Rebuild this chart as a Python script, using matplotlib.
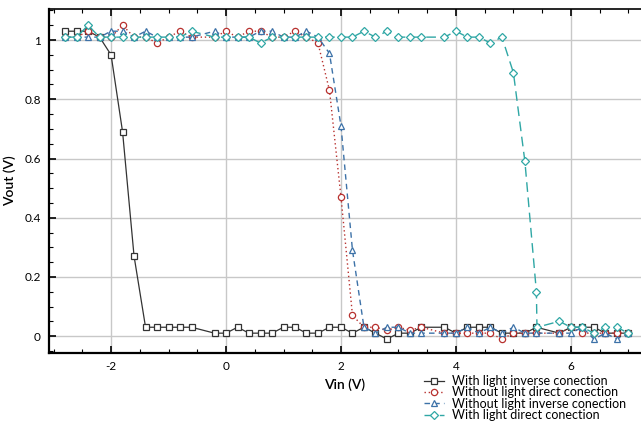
import matplotlib
matplotlib.use("Agg")
import matplotlib.pyplot as plt
from matplotlib.ticker import MultipleLocator, AutoMinorLocator, FormatStrFormatter

plt.rcParams['font.family'] = ['Lato', 'DejaVu Sans']
plt.rcParams['axes.unicode_minus'] = False

# shared Vin steps (no readings at -0.4, 3.6 and 5.6)
vin = [-2.8, -2.6, -2.4, -2.2, -2.0, -1.8, -1.6, -1.4, -1.2, -1.0, -0.8, -0.6,
       -0.2, 0.0, 0.2, 0.4, 0.6, 0.8, 1.0, 1.2, 1.4, 1.6, 1.8, 2.0, 2.2, 2.4,
       2.6, 2.8, 3.0, 3.2, 3.4, 3.8, 4.0, 4.2, 4.4, 4.6, 4.8, 5.0, 5.2, 5.4,
       5.8, 6.0, 6.2, 6.4, 6.6, 6.8, 7.0]

light_inverse = [1.03, 1.03, 1.03, 1.01, 0.95, 0.69, 0.27, 0.03, 0.03, 0.03, 0.03, 0.03,
                 0.01, 0.01, 0.03, 0.01, 0.01, 0.01, 0.03, 0.03, 0.01, 0.01, 0.03, 0.03, 0.01, 0.03,
                 0.01, -0.01, 0.01, 0.01, 0.03, 0.03, 0.01, 0.03, 0.03, 0.03, 0.01, 0.01, 0.01, 0.03,
                 0.01, 0.03, 0.03, 0.03, 0.01, 0.01, 0.01]

nolight_direct = [1.01, 1.01, 1.03, 1.01, 1.01, 1.05, 1.01, 1.01, 0.99, 1.01, 1.03, 1.01,
                  1.01, 1.03, 1.01, 1.03, 1.03, 1.01, 1.01, 1.03, 1.01, 0.99, 0.83, 0.47, 0.07, 0.03,
                  0.03, 0.02, 0.03, 0.02, 0.03, 0.01, 0.01, 0.01, 0.01, 0.01, -0.01, 0.01, 0.01, 0.01,
                  0.01, 0.03, 0.01, 0.01, 0.01, 0.01, 0.01]

nolight_inverse = [1.01, 1.01, 1.01, 1.01, 1.03, 1.03, 1.01, 1.03, 1.01, 1.01, 1.01, 1.01,
                   1.03, 1.01, 1.01, 1.01, 1.03, 1.03, 1.01, 1.01, 1.03, 1.01, 0.955, 0.71, 0.29, 0.03,
                   0.01, 0.03, 0.03, 0.01, 0.01, 0.01, 0.01, 0.03, 0.01, 0.03, 0.01, 0.03, 0.01, 0.01,
                   0.01, 0.01, 0.03, -0.01, 0.01, -0.01, 0.01]

# light direct has two readings at 5.4
vin_ld = [-2.8, -2.6, -2.4, -2.2, -2.0, -1.8, -1.6, -1.4, -1.2, -1.0, -0.8, -0.6,
          -0.2, 0.0, 0.2, 0.4, 0.6, 0.8, 1.0, 1.2, 1.4, 1.6, 1.8, 2.0, 2.2, 2.4,
          2.6, 2.8, 3.0, 3.2, 3.4, 3.8, 4.0, 4.2, 4.4, 4.6, 4.8, 5.0, 5.2, 5.4, 5.41,
          5.8, 6.0, 6.2, 6.4, 6.6, 6.8, 7.0]
light_direct = [1.01, 1.01, 1.05, 1.01, 1.01, 1.01, 1.01, 1.01, 1.01, 1.01, 1.01, 1.03,
                1.01, 1.01, 1.01, 1.01, 0.99, 1.01, 1.01, 1.01, 1.01, 1.01, 1.01, 1.01, 1.01, 1.03,
                1.01, 1.03, 1.01, 1.01, 1.01, 1.01, 1.03, 1.01, 1.01, 0.99, 1.01, 0.89, 0.59, 0.15, 0.03,
                0.05, 0.03, 0.03, 0.01, 0.03, 0.03, 0.01]

labels = ["With light inverse conection", "Without light direct conection",
          "Without light inverse conection", "With light direct conection"]

fig = plt.figure(figsize=(6.41, 4.24), dpi=100)
ax = fig.add_axes([49/641, 1-353/424, 1-49/641, (353-9)/424])

mk = dict(markersize=4.5, markerfacecolor='white', markeredgewidth=0.9)
ax.plot(vin, light_inverse, color='#333333', lw=0.9, marker='s', label=labels[0], zorder=3, **mk)
ax.plot(vin, nolight_direct, color='#b8312f', lw=1.0, ls=(0, (1, 2)), marker='o', label=labels[1], zorder=4, **mk)
ax.plot(vin, nolight_inverse, color='#3d72a8', lw=1.0, ls=(0, (4, 3)), marker='^', label=labels[2], zorder=5, **mk)
ax.plot(vin_ld, light_direct, color='#2fa7a5', lw=1.0, ls=(0, (7, 4)), marker='D', label=labels[3], zorder=6,
        markersize=3.8, markerfacecolor='white', markeredgewidth=0.9)

ax.set_xlim(-3.08, 7.22)
ax.set_ylim(-0.057, 1.105)
ax.xaxis.set_major_locator(MultipleLocator(2))
ax.xaxis.set_minor_locator(AutoMinorLocator(4))
ax.yaxis.set_major_locator(MultipleLocator(0.2))
ax.yaxis.set_minor_locator(AutoMinorLocator(4))
ax.yaxis.set_major_formatter(FormatStrFormatter('%g'))
ax.grid(True, which='major', color='#c8c8c8', lw=1.0)
ax.set_axisbelow(True)

ax.tick_params(which='both', direction='in', top=True, right=False, labelsize=8.5, pad=6)
ax.tick_params(which='major', length=5, width=1.2)
ax.tick_params(which='minor', length=3, width=0.8)
ax.spines['right'].set_visible(False)
ax.spines['left'].set_linewidth(1.6)
ax.spines['bottom'].set_linewidth(1.6)
ax.spines['top'].set_linewidth(1.2)

ax.set_xlabel("Vin (V)", fontsize=10, fontweight='semibold', labelpad=4)
ax.set_ylabel("Vout (V)", fontsize=10, fontweight='semibold', labelpad=6)

fig.legend(loc='upper left', bbox_to_anchor=(424/641, 1-375/424), frameon=False,
           fontsize=9, handlelength=1.6, handletextpad=0.6, labelspacing=-0.05, borderpad=0,
           borderaxespad=0)

fig.savefig("out.png", dpi=100)
